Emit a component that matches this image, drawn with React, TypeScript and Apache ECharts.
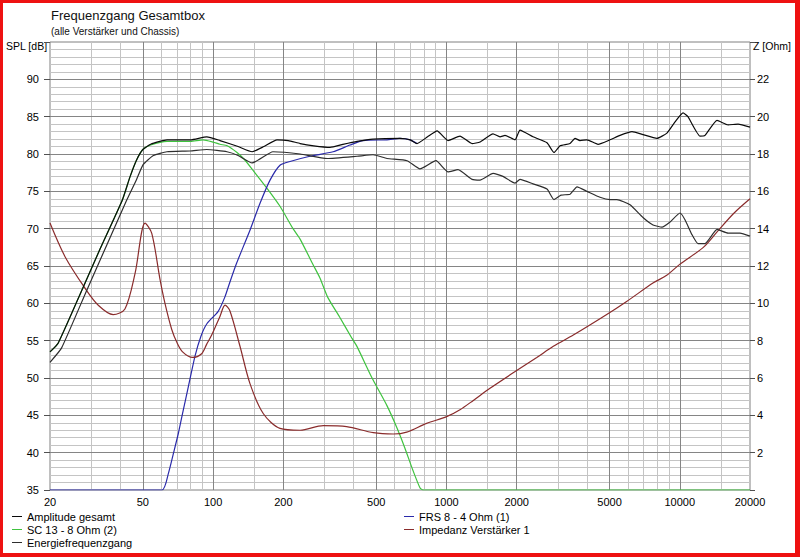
import React, { useEffect, useRef } from "react";
import * as echarts from "echarts";

const FONT = '"Liberation Sans", Arial, Helvetica, sans-serif';

// ---- data: [frequency Hz, value] ----
const amplitudeGesamt: [number, number][] = [
  [20, 53.5], [21.7, 54.7], [27.6, 62.0], [32.7, 67.2], [40.8, 73.8], [44, 76.9], [47, 79.2],
  [50, 80.6], [54, 81.3], [63.5, 81.9], [80, 81.9], [94, 82.3], [107, 81.8], [128, 81.0], [147, 80.3],
  [165, 81.0], [188, 81.9], [210, 81.8], [236, 81.4], [270, 81.1], [317, 80.9], [360, 81.3],
  [414, 81.7], [485, 82.0], [632, 82.1], [700, 81.9], [748, 81.4], [830, 82.3], [912, 83.1],
  [1016, 81.8], [1143, 82.4], [1288, 81.4], [1393, 81.6], [1584, 82.7], [1697, 82.3], [1783, 82.5],
  [1968, 81.9], [2067, 83.2], [2350, 82.3], [2698, 81.5], [2890, 80.2], [3069, 81.1], [3386, 81.4],
  [3557, 82.1], [3736, 81.8], [4003, 81.9], [4464, 81.3], [5024, 81.9], [5546, 82.5], [6243, 83.0],
  [6956, 82.6], [7985, 82.1], [8810, 82.8], [9545, 84.3], [10330, 85.5], [10840, 85.0], [12210, 82.4],
  [12830, 82.5], [14450, 84.5], [16110, 83.9], [17780, 84.0], [20000, 83.6],
];

const energiefrequenzgang: [number, number][] = [
  [20, 52.1], [22.4, 54.0], [28.7, 61.7], [42.6, 73.8], [47.0, 76.6], [50.2, 78.6], [55.5, 79.8],
  [63.4, 80.3], [79.6, 80.4], [94, 80.6], [114.7, 80.3], [128, 79.8], [147, 78.8], [180.6, 80.3],
  [236, 80.0], [308, 79.4], [414, 79.7], [485, 79.9], [556, 79.4], [678, 79.1], [770, 78.0],
  [902, 79.1], [1016, 77.6], [1121, 77.9], [1288, 76.6], [1393, 76.5], [1584, 77.4], [1747, 77.0],
  [1968, 76.1], [2067, 76.6], [2350, 76.0], [2698, 75.3], [2890, 73.9], [3098, 74.5], [3386, 74.6],
  [3628, 75.6], [4003, 75.0], [4552, 74.2], [5024, 73.9], [5383, 73.9], [6121, 73.2], [6956, 71.5],
  [7680, 70.5], [8393, 70.2], [9087, 70.9], [10024, 72.1], [10530, 71.2], [11280, 69.2], [11970, 68.0],
  [12830, 68.0], [14450, 69.9], [16110, 69.4], [18120, 69.4], [20000, 69.0],
];

const sc13: [number, number][] = [
  [20, 53.5], [21.7, 54.7], [27.6, 62.0], [32.7, 67.2], [40.8, 73.8], [44, 76.9], [47, 79.2],
  [50, 80.6], [54, 81.2], [63.5, 81.7], [80, 81.7], [90.5, 81.9], [100, 81.6], [107, 81.3], [115, 81.1],
  [126.6, 80.2], [136, 79.3], [148.4, 77.8], [170.3, 75.4], [193.5, 73.0], [220, 70.0], [236, 68.6],
  [268, 65.2], [287, 63.4], [310, 60.8], [348, 58.2], [394, 55.3], [414, 54.2], [480, 50.0],
  [556, 46.3], [614, 43.3], [664, 40.6], [719, 37.6], [770, 35.3], [794, 35.0], [20000, 35.0],
];

const frs8: [number, number][] = [
  [20, 35], [60.4, 35], [64.3, 37.2], [67.6, 39.9], [71, 42.6], [74.5, 45.7], [78.3, 48.8],
  [83.6, 52.9], [88.7, 55.6], [94.2, 57.3], [105, 58.9], [112.5, 60.9], [118.2, 62.9], [126.2, 65.4],
  [143.9, 69.8], [158.9, 73.4], [175.4, 76.5], [193.5, 78.5], [213.6, 79.0], [260, 79.7],
  [326.6, 80.3], [386, 81.2], [438.8, 81.8], [556, 81.9], [632, 82.1], [700, 81.9], [748, 81.4],
];

const impedanz: [number, number][] = [
  [20, 14.3], [23.2, 12.5], [28.3, 10.8], [32.2, 9.9], [37.3, 9.4], [41.9, 9.7], [46.3, 11.6],
  [51.1, 14.3], [54.6, 13.75], [59.2, 11.3], [62.2, 10.0], [66.5, 8.6], [70, 7.9], [74, 7.4],
  [81.6, 7.1], [89.3, 7.3], [93.8, 7.8], [98.6, 8.3], [107, 9.3], [112.5, 9.9], [118, 9.6],
  [130.4, 7.7], [143.9, 5.7], [164, 4.1], [193.5, 3.3], [236, 3.2], [296.6, 3.45], [373.5, 3.4],
  [486, 3.07], [592, 3.0], [676, 3.1], [822, 3.57], [1002, 3.93], [1143, 4.3], [1304, 4.8],
  [1537, 5.45], [2000, 6.4], [2439, 7.1], [2872, 7.7], [3498, 8.3], [4864, 9.4], [5920, 10.1],
  [7706, 11.1], [8790, 11.5], [10024, 12.1], [12620, 13.0], [14390, 13.8], [16970, 14.8], [20000, 15.6],
];

// ---- axis ticks / grid ----
const xTickLabels = [20, 50, 100, 200, 500, 1000, 2000, 5000, 10000, 20000];
const majorFreqs = [50, 100, 200, 500, 1000, 2000, 5000, 10000];
const minorFreqs = [30, 40, 60, 70, 80, 90, 150, 300, 400, 600, 700, 800, 900, 1500, 3000, 4000, 6000, 7000, 8000, 9000, 15000];
const majorDb = [40, 45, 50, 55, 60, 65, 70, 75, 80, 85, 90];
const minorDb = [
  36, 37, 38, 39, 41, 42, 43, 44, 46, 47, 48, 49, 51, 52, 53, 54, 56, 57, 58, 59, 61, 62, 63, 64,
  66, 67, 68, 69, 71, 72, 73, 74, 76, 77, 78, 79, 81, 82, 83, 84, 86, 87, 88, 89, 91, 92, 93, 94,
];

const NAMES = {
  amp: "Amplitude gesamt",
  sc: "SC 13 - 8 Ohm (2)",
  energy: "Energiefrequenzgang",
  frs: "FRS 8 - 4 Ohm (1)",
  imp: "Impedanz Verstärker 1",
};

export default function App() {
  const ref = useRef<HTMLDivElement>(null);

  useEffect(() => {
    if (!ref.current) return;
    const chart = echarts.init(ref.current, undefined, { renderer: "svg" });

    const line = (name: string, data: [number, number][], color: string, yAxisIndex: number, z: number, smooth: number) => ({
      type: "line",
      name,
      data,
      xAxisIndex: 0,
      yAxisIndex,
      showSymbol: false,
      symbol: "none",
      smooth,
      color,
      z,
      silent: true,
      clip: true,
      lineStyle: { color, width: 1.2 },
      emphasis: { disabled: true },
    });

    const gridSeries = (name: string, color: string, xs: number[], ys: number[]) => ({
      type: "line",
      name,
      data: [],
      xAxisIndex: 0,
      yAxisIndex: 0,
      silent: true,
      markLine: {
        silent: true,
        symbol: ["none", "none"],
        label: { show: false },
        z: 1,
        lineStyle: { color, width: 1, type: "solid" },
        emphasis: { disabled: true },
        data: [...xs.map((v) => ({ xAxis: v })), ...ys.map((v) => ({ yAxis: v }))],
      },
    });

    const legendText = { fontSize: 11, color: "#000", fontFamily: FONT, lineHeight: 13 };
    const legendBase = {
      orient: "vertical",
      top: 510,
      height: 80,
      width: 300,
      padding: 0,
      itemWidth: 10,
      itemHeight: 1,
      itemGap: 0,
      icon: "rect",
      selectedMode: false,
      textStyle: legendText,
    };

    chart.setOption({
      animation: false,
      backgroundColor: "#ffffff",
      textStyle: { fontFamily: FONT },
      title: [
        {
          text: "Frequenzgang Gesamtbox",
          left: 51,
          top: 9,
          padding: 0,
          textStyle: { fontSize: 13, fontWeight: "normal", color: "#111", fontFamily: FONT },
        },
        {
          text: "(alle Verstärker und Chassis)",
          left: 51,
          top: 26,
          padding: 0,
          textStyle: { fontSize: 10, fontWeight: "normal", color: "#111", fontFamily: FONT },
        },
      ],
      graphic: [
        { type: "text", left: 6, top: 40, style: { text: "SPL [dB]", fontSize: 10.5, fill: "#000", fontFamily: FONT } },
        { type: "text", left: 753, top: 40, style: { text: "Z [Ohm]", fontSize: 10.5, fill: "#000", fontFamily: FONT } },
      ],
      legend: [
        { ...legendBase, left: 12, data: [NAMES.amp, NAMES.sc, NAMES.energy] },
        { ...legendBase, left: 404, data: [NAMES.frs, NAMES.imp] },
      ],
      grid: {
        left: 50,
        top: 42,
        width: 700,
        height: 448,
        show: true,
        borderColor: "#808080",
        borderWidth: 1,
        backgroundColor: "transparent",
        containLabel: false,
      },
      xAxis: {
        type: "log",
        logBase: 10,
        min: 20,
        max: 20000,
        axisLine: { show: false },
        axisTick: { show: false },
        splitLine: { show: false },
        axisLabel: {
          customValues: xTickLabels,
          showMinLabel: true,
          showMaxLabel: true,
          margin: 6,
          fontSize: 11,
          color: "#000",
          fontFamily: FONT,
          formatter: (v: number) => String(Math.round(v)),
        },
      },
      yAxis: [
        {
          type: "value",
          position: "left",
          min: 35,
          max: 95,
          interval: 5,
          axisLine: { show: false },
          axisTick: { show: true, length: 6, lineStyle: { color: "#505050" } },
          splitLine: { show: false },
          axisLabel: {
            margin: 11,
            fontSize: 11,
            color: "#000",
            fontFamily: FONT,
            formatter: (v: number) => (v === 95 ? "" : String(v)),
          },
        },
        {
          type: "value",
          position: "right",
          min: 0,
          max: 24,
          interval: 2,
          axisLine: { show: false },
          axisTick: { show: true, length: 5, lineStyle: { color: "#505050" } },
          splitLine: { show: false },
          axisLabel: {
            margin: 7,
            fontSize: 11,
            color: "#000",
            fontFamily: FONT,
            formatter: (v: number) => (v === 0 || v === 24 ? "" : String(v)),
          },
        },
      ],
      series: [
        gridSeries("gridMinor", "#c4c4c4", minorFreqs, minorDb),
        gridSeries("gridMajor", "#858585", majorFreqs, majorDb),
        line(NAMES.sc, sc13, "#3fc33f", 0, 2, 0.2),
        line(NAMES.frs, frs8, "#2a2aaa", 0, 3, 0.2),
        line(NAMES.imp, impedanz, "#8a2c2c", 1, 3, 0.3),
        line(NAMES.energy, energiefrequenzgang, "#2e2e2e", 0, 4, 0.15),
        line(NAMES.amp, amplitudeGesamt, "#0a0a0a", 0, 5, 0.15),
      ],
    });

    return () => chart.dispose();
  }, []);

  return (
    <div style={{ position: "fixed", left: 0, top: 0, width: 800, height: 557, background: "#fff" }}>
      <div ref={ref} style={{ position: "absolute", left: 0, top: 0, width: 800, height: 557 }} />
      <div
        style={{
          position: "absolute",
          left: 0,
          top: 0,
          width: 800,
          height: 557,
          boxSizing: "border-box",
          borderStyle: "solid",
          borderColor: "#ee1111",
          borderWidth: "3px 5px 4px 3px",
          pointerEvents: "none",
        }}
      />
    </div>
  );
}
